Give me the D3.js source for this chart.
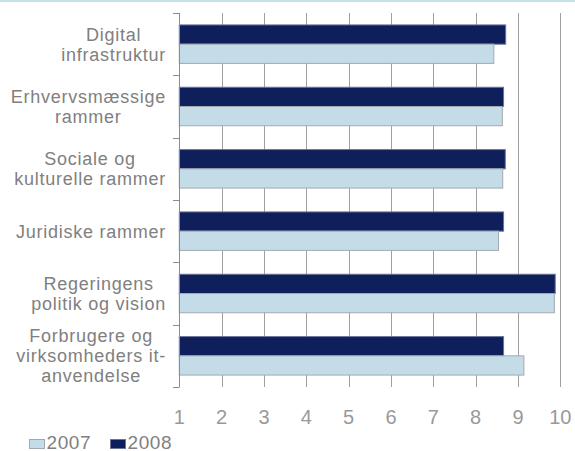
<!DOCTYPE html>
<html><head><meta charset="utf-8">
<script src="https://cdn.jsdelivr.net/npm/d3@7"></script>
<style>
html,body{margin:0;padding:0;background:#fff;}
svg{display:block;font-family:"Liberation Sans",Arial,sans-serif;}
</style></head>
<body><svg id="c" width="575" height="451"></svg>
<script>
const categories = [
  ["Digital","infrastruktur"],
  ["Erhvervsmæssige","rammer"],
  ["Sociale og","kulturelle rammer"],
  ["Juridiske rammer"],
  ["Regeringens","politik og vision"],
  ["Forbrugere og","virksomheders it-","anvendelse"]
];
const series = ["2008","2007"];
const values2007 = [8.43, 8.63, 8.64, 8.54, 9.86, 9.14];
const values2008 = [8.71, 8.66, 8.70, 8.66, 9.88, 8.66];
const xTicks = [1,2,3,4,5,6,7,8,9,10];
const legendLabels = ["2007","2008"];

const colors = {"2007":"#c4dce8","2008":"#0e1f5b"};
const strokes = {"2007":"#a3a9b0","2008":"#6a7399"};

const svg = d3.select("#c");
const catIdx = categories.map((d,i)=>i);

const x = d3.scaleLinear().domain([1,10]).range([179.3,560.3]);
const y = d3.scaleBand().domain(catIdx).range([13,387]).padding(0);
const yi = d3.scaleBand().domain(series).range([0,y.bandwidth()]).paddingInner(0).paddingOuter(0.62);

// top decorative line
svg.append("rect").attr("x",0).attr("y",0).attr("width",575).attr("height",2).attr("fill","#c6e0ea");

// gridlines
svg.append("g").selectAll("line").data(xTicks.slice(1)).join("line")
  .attr("x1",d=>Math.round(x(d))+0.5).attr("x2",d=>Math.round(x(d))+0.5)
  .attr("y1",13).attr("y2",387).attr("stroke","#a0a0a0").attr("stroke-width",1);

// bars
const data = [];
catIdx.forEach(i=>{
  data.push({c:i,s:"2008",v:values2008[i]});
  data.push({c:i,s:"2007",v:values2007[i]});
});
svg.append("g").selectAll("rect").data(data).join("rect")
  .attr("x",x(1)).attr("y",d=>y(d.c)+yi(d.s))
  .attr("width",d=>x(d.v)-x(1)).attr("height",yi.bandwidth())
  .attr("fill",d=>colors[d.s]).attr("stroke",d=>strokes[d.s]).attr("stroke-width",1);

// y axis
const yAxisG = svg.append("g");
yAxisG.append("line").attr("x1",179.5).attr("x2",179.5).attr("y1",13).attr("y2",387).attr("stroke","#8c8c8c");
const bounds = catIdx.map(i=>y(i)).concat([387]);
yAxisG.selectAll("line.t").data(bounds).join("line").attr("class","t")
  .attr("x1",173).attr("x2",179.5).attr("y1",d=>Math.round(d)+0.5).attr("y2",d=>Math.round(d)+0.5)
  .attr("stroke","#8c8c8c");

// category labels
const labG = svg.append("g").attr("font-size","18px").attr("fill","#808080").attr("letter-spacing","0.75px");
const rightEdge = 166;
categories.forEach((lines,i)=>{
  const cy = y(i)+y.bandwidth()/2;
  const g = labG.append("g");
  const texts = lines.map((l,j)=> g.append("text").text(l)
      .attr("y", cy + (j-(lines.length-1)/2)*20 + 6.5));
  const w = d3.max(texts, t=>t.node().getComputedTextLength());
  texts.forEach(t=>t.attr("text-anchor","middle").attr("x", rightEdge - w/2));
});

// x tick labels
svg.append("g").attr("font-size","20px").attr("fill","#999999")
  .selectAll("text").data(xTicks).join("text")
  .attr("x",d=>x(d)).attr("y",424).attr("text-anchor","middle").text(d=>d);

// legend
const leg = svg.append("g").attr("font-size","19px").attr("fill","#808080");
const legX = [29.5,110.5];
legendLabels.forEach((s,i)=>{
  leg.append("rect").attr("x",legX[i]).attr("y",439.5).attr("width",15).attr("height",9)
    .attr("fill",colors[s]).attr("stroke",strokes[s]);
  leg.append("text").attr("x",legX[i]+17).attr("y",448.5).attr("letter-spacing","0.6px").text(s);
});
</script></body></html>
